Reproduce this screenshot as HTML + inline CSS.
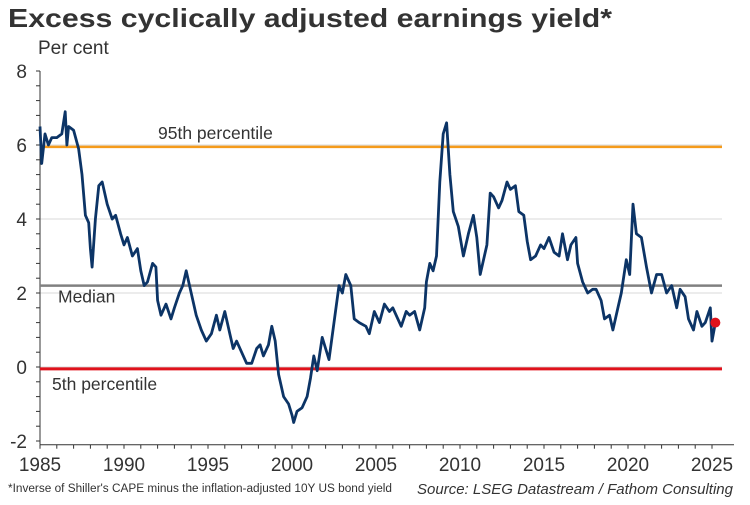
<!DOCTYPE html>
<html><head><meta charset="utf-8"><style>
body{margin:0;background:#fff;font-family:"Liberation Sans",Arial,sans-serif}
</style></head><body>
<svg width="750" height="500" xmlns="http://www.w3.org/2000/svg" font-family="Liberation Sans, Arial, sans-serif">
<text x="8" y="27" font-size="26" font-weight="bold" fill="#333" textLength="604" lengthAdjust="spacingAndGlyphs">Excess cyclically adjusted earnings yield*</text>
<text x="38" y="54" font-size="19" fill="#333">Per cent</text>
<g id="grid"></g><g id="axes"></g><g id="refs"></g><g id="series"></g>
<text x="8" y="492" font-size="11.5" fill="#333" textLength="384" lengthAdjust="spacingAndGlyphs">*Inverse of Shiller's CAPE minus the inflation-adjusted 10Y US bond yield</text>
<text x="733" y="494" font-size="15" font-style="italic" fill="#333" text-anchor="end">Source: LSEG Datastream / Fathom Consulting</text>
</svg>
<script>
const yTicks=[8,6,4,2,0,-2];
const xTicks=[1985,1990,1995,2000,2005,2010,2015,2020,2025];
const refValues=[5.95,2.2,-0.05];
const refLabels=["95th percentile","Median","5th percentile"];
const years=[1985.0,1985.1,1985.3,1985.5,1985.7,1986.0,1986.3,1986.5,1986.6,1986.7,1987.0,1987.3,1987.5,1987.7,1987.9,1988.0,1988.1,1988.3,1988.5,1988.7,1989.0,1989.3,1989.5,1989.8,1990.0,1990.2,1990.5,1990.8,1991.0,1991.2,1991.4,1991.7,1991.9,1992.0,1992.2,1992.5,1992.8,1993.0,1993.3,1993.5,1993.7,1994.0,1994.3,1994.6,1994.9,1995.2,1995.5,1995.7,1996.0,1996.3,1996.5,1996.7,1997.0,1997.3,1997.6,1997.9,1998.1,1998.3,1998.6,1998.8,1999.0,1999.2,1999.5,1999.8,2000.0,2000.1,2000.3,2000.6,2000.9,2001.1,2001.3,2001.5,2001.8,2002.0,2002.2,2002.5,2002.8,2003.0,2003.2,2003.5,2003.7,2004.0,2004.4,2004.6,2004.9,2005.2,2005.5,2005.8,2006.0,2006.5,2006.8,2007.0,2007.3,2007.6,2007.9,2008.0,2008.2,2008.4,2008.6,2008.8,2009.0,2009.2,2009.4,2009.6,2009.9,2010.2,2010.5,2010.8,2011.0,2011.2,2011.6,2011.8,2012.0,2012.3,2012.5,2012.8,2013.0,2013.3,2013.5,2013.8,2014.0,2014.2,2014.5,2014.8,2015.0,2015.3,2015.6,2015.9,2016.1,2016.4,2016.6,2016.9,2017.0,2017.3,2017.6,2017.9,2018.1,2018.4,2018.6,2018.9,2019.1,2019.4,2019.6,2019.9,2020.1,2020.3,2020.5,2020.8,2021.1,2021.4,2021.7,2022.0,2022.3,2022.6,2022.9,2023.1,2023.4,2023.6,2023.9,2024.1,2024.4,2024.6,2024.9,2025.0,2025.2];
const values=[6.5,5.5,6.3,6.0,6.2,6.2,6.3,6.9,6.0,6.5,6.4,5.9,5.2,4.1,3.9,3.2,2.7,4.0,4.9,5.0,4.4,4.0,4.1,3.6,3.3,3.5,3.0,3.2,2.6,2.2,2.3,2.8,2.7,1.8,1.4,1.7,1.3,1.6,2.0,2.2,2.6,2.0,1.4,1.0,0.7,0.9,1.4,1.0,1.5,0.9,0.5,0.7,0.4,0.1,0.1,0.5,0.6,0.3,0.6,1.1,0.7,-0.2,-0.8,-1.0,-1.3,-1.5,-1.2,-1.1,-0.8,-0.3,0.3,-0.1,0.8,0.5,0.2,1.2,2.2,2.0,2.5,2.2,1.3,1.2,1.1,0.9,1.5,1.2,1.7,1.5,1.6,1.1,1.5,1.4,1.5,1.0,1.6,2.3,2.8,2.6,3.0,5.0,6.3,6.6,5.2,4.2,3.8,3.0,3.6,4.1,3.5,2.5,3.3,4.7,4.6,4.3,4.5,5.0,4.8,4.9,4.2,4.1,3.4,2.9,3.0,3.3,3.2,3.5,3.1,3.0,3.6,2.9,3.3,3.5,2.8,2.3,2.0,2.1,2.1,1.8,1.3,1.4,1.0,1.6,2.0,2.9,2.5,4.4,3.6,3.5,2.7,2.0,2.5,2.5,2.0,2.2,1.6,2.1,1.9,1.3,1.0,1.5,1.1,1.2,1.6,0.7,1.2];
const NS="http://www.w3.org/2000/svg";
const X0=40,X1=722;
const xs=y=>40+(y-1985)*16.8;
const ys=v=>367-v*37;
function mk(p,t,a){const e=document.createElementNS(NS,t);for(const k in a)e.setAttribute(k,a[k]);document.getElementById(p).appendChild(e);return e;}
yTicks.forEach(t=>{
 if(t!==8&&t!==-2){const g=mk('grid','line',{x1:X0,x2:X1,y1:ys(t),y2:ys(t),stroke:'#d9d9d9','stroke-width':1});
 
 }
 const l=mk('axes','text',{x:27,y:ys(t)+7,'font-size':19,fill:'#333','text-anchor':'end'});l.textContent=t;
 
 
});
for(let v=-2;v<=8.001;v+=0.4){mk('axes','line',{x1:X0-4,x2:X0,y1:ys(v),y2:ys(v),stroke:'#333','stroke-width':1});}
const ya=mk('axes','line',{x1:X0,x2:X0,y1:ys(8),y2:ys(-2.1),stroke:'#333','stroke-width':1});


const xa=mk('axes','line',{x1:X0,x2:X1+12,y1:ys(-2.1),y2:ys(-2.1),stroke:'#333','stroke-width':1});


for(let y=1985;y<=2025;y++){mk('axes','line',{x1:xs(y),x2:xs(y),y1:ys(-2.1),y2:ys(-2.1)+4,stroke:'#333','stroke-width':1});}
xTicks.forEach(t=>{const l=mk('axes','text',{x:xs(t),y:471,'font-size':19,fill:'#333','text-anchor':'middle'});l.textContent=t;
 
 });
const refColors=['#f59b1b','#808080','#e0121b'];
const refPos=[[158,-8],[58,17],[52,21]];
refValues.forEach((v,i)=>{const l=mk('refs','line',{x1:X0,x2:X1,y1:ys(v),y2:ys(v),stroke:refColors[i],'stroke-width':i==2?3:2.5});
 
 
 const t=mk('refs','text',{x:refPos[i][0],y:ys(v)+refPos[i][1],'font-size':17.5,fill:'#333'});t.textContent=refLabels[i];
 
 });
const d=years.map((y,i)=>(i?'L':'M')+xs(y).toFixed(1)+','+ys(values[i]).toFixed(1)).join('');
const p=mk('series','path',{d:d,fill:'none',stroke:'#0c3466','stroke-width':2.8,'stroke-linejoin':'round'});


const n=years.length-1;
const c=mk('series','circle',{cx:xs(years[n]),cy:ys(values[n]),r:5,fill:'#e0121b'});


</script>
</body></html>
